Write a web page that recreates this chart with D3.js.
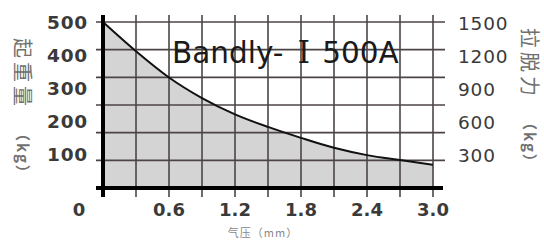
<!DOCTYPE html>
<html>
<head>
<meta charset="utf-8">
<script src="https://cdn.jsdelivr.net/npm/d3@7"></script>
<style>
  body { margin: 0; background: #fff; }
  svg { display: block; }
</style>
</head>
<body>
<div id="chart"></div>
<script>
// air gap (mm) vs. lifting weight (kg)
const gapValues = [0, 0.3, 0.6, 0.9, 1.2, 1.5, 1.8, 2.1, 2.4, 2.7, 3.0];
const liftValues = [500, 412, 333, 271, 222, 184, 151, 121, 99, 84, 70];

const xTickLabels = ['0', '0.6', '1.2', '1.8', '2.4', '3.0'];
const leftTickLabels = [500, 400, 300, 200, 100];
const rightTickLabels = [1500, 1200, 900, 600, 300];

const title = ['Bandly-', 'Ⅰ', '500A'];
const leftTitle = ['起重量', '（kg）'];
const rightTitle = ['拉脱力', '（kg）'];
const xTitle = '气压（mm）';

const width = 544, height = 246;
const margin = { top: 22, right: 111, bottom: 58, left: 103 };

const svg = d3.select('#chart').append('svg')
  .attr('width', width)
  .attr('height', height);

const x = d3.scaleLinear().domain([0, 3]).range([margin.left, width - margin.right]);
const y = d3.scaleLinear().domain([0, 500]).range([height - margin.bottom, margin.top]);
const yRight = d3.scaleLinear().domain([0, 1500]).range([height - margin.bottom, margin.top]);

const pts = gapValues.map((g, i) => ({ g, v: liftValues[i] }));

// shaded area under the curve
const area = d3.area()
  .x(d => x(d.g))
  .y0(y(0))
  .y1(d => y(d.v))
  .curve(d3.curveMonotoneX);

svg.append('path')
  .datum(pts)
  .attr('d', area)
  .attr('fill', '#d4d4d4');

// grid: 10 columns, 6 rows
const gridColor = '#4d4545';
svg.append('g')
  .selectAll('line')
  .data(d3.range(1, 11).map(i => i * 0.3))
  .join('line')
  .attr('x1', d => x(d)).attr('x2', d => x(d))
  .attr('y1', y(500) - 7).attr('y2', y(0) + 9)
  .attr('stroke', gridColor)
  .attr('stroke-width', 1.6);

svg.append('g')
  .selectAll('line')
  .data(d3.range(1, 7).map(i => i * 500 / 6))
  .join('line')
  .attr('x1', x(0) - 7).attr('x2', x(3) + 12)
  .attr('y1', d => y(d)).attr('y2', d => y(d))
  .attr('stroke', gridColor)
  .attr('stroke-width', 1.6);

// curve
const line = d3.line()
  .x(d => x(d.g))
  .y(d => y(d.v))
  .curve(d3.curveMonotoneX);

svg.append('path')
  .datum(pts)
  .attr('d', line)
  .attr('fill', 'none')
  .attr('stroke', '#111')
  .attr('stroke-width', 2);

// heavy axes
svg.append('line')
  .attr('x1', x(0)).attr('x2', x(0))
  .attr('y1', y(500) - 7).attr('y2', y(0) + 9)
  .attr('stroke', '#000').attr('stroke-width', 4);

svg.append('line')
  .attr('x1', x(0) - 7).attr('x2', x(3) + 10)
  .attr('y1', y(0)).attr('y2', y(0))
  .attr('stroke', '#000').attr('stroke-width', 4);

// tick labels
const tickFont = 'DejaVu Sans, sans-serif';

svg.append('g')
  .selectAll('text')
  .data(leftTickLabels)
  .join('text')
  .attr('x', x(0) - 15)
  .attr('y', d => y(d))
  .attr('dy', '0.36em')
  .attr('text-anchor', 'end')
  .attr('font-family', tickFont)
  .attr('font-weight', 'bold')
  .attr('font-size', 18.5)
  .attr('letter-spacing', 0.8)
  .attr('fill', '#3a3a3a')
  .text(d => d);

svg.append('g')
  .selectAll('text')
  .data(rightTickLabels)
  .join('text')
  .attr('x', x(3) + 25)
  .attr('y', d => yRight(d) + 1)
  .attr('dy', '0.36em')
  .attr('font-family', tickFont)
  .attr('font-size', 18.5)
  .attr('letter-spacing', 0.8)
  .attr('fill', '#3a3a3a')
  .text(d => d);

svg.append('g')
  .selectAll('text')
  .data(xTickLabels)
  .join('text')
  .attr('x', d => +d === 0 ? x(0) - 24 : x(+d))
  .attr('y', y(0) + 22)
  .attr('dy', '0.36em')
  .attr('text-anchor', 'middle')
  .attr('font-family', tickFont)
  .attr('font-weight', 'bold')
  .attr('font-size', 18)
  .attr('fill', '#3a3a3a')
  .text(d => d);

// title
const t = svg.append('text')
  .attr('x', 172)
  .attr('y', 63)
  .attr('font-family', 'DejaVu Sans, sans-serif')
  .attr('font-size', 29.5)
  .attr('fill', '#1a1a1a');
t.append('tspan').text(title[0]);
t.append('tspan').attr('dx', 14)
  .attr('font-family', 'Liberation Serif, DejaVu Serif, serif')
  .attr('font-size', 32)
  .text(title[1]);
t.append('tspan').attr('dx', 12).text(title[2]);

// rotated axis titles
function sideTitle(cx, parts, y0, y1) {
  const g = svg.append('g').attr('fill', '#707070')
    .attr('font-family', 'Noto Sans CJK SC, sans-serif');
  g.append('text')
    .attr('transform', `translate(${cx},${y0}) rotate(90)`)
    .attr('dy', '0.35em')
    .attr('font-size', 20)
    .attr('letter-spacing', 4)
    .text(parts[0]);
  g.append('text')
    .attr('transform', `translate(${cx},${y1}) rotate(90)`)
    .attr('dy', '0.35em')
    .attr('font-size', 15)
    .attr('font-weight', 'bold')
    .attr('letter-spacing', 2)
    .text(parts[1]);
}
sideTitle(22, leftTitle, 38, 126);
sideTitle(529, rightTitle, 28, 115);

svg.append('text')
  .attr('x', 263)
  .attr('y', 233)
  .attr('dy', '0.35em')
  .attr('text-anchor', 'middle')
  .attr('font-family', 'Noto Sans CJK SC, sans-serif')
  .attr('font-size', 11)
  .attr('letter-spacing', 1)
  .attr('fill', '#888')
  .text(xTitle);
</script>
</body>
</html>
